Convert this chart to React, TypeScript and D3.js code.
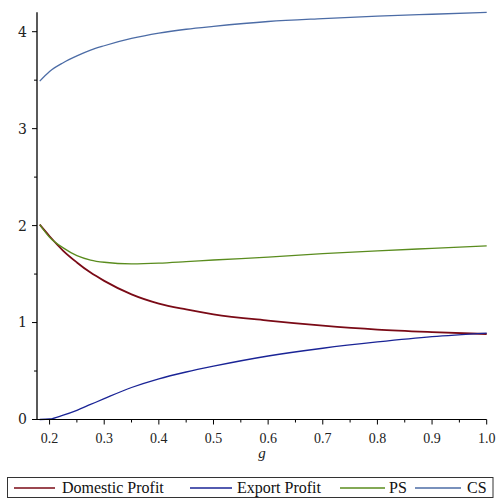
import React from "react";
import * as d3 from "d3";

const gVals = [0.182, 0.2, 0.225, 0.25, 0.275, 0.3, 0.35, 0.4, 0.45, 0.5, 0.6, 0.7, 0.8, 0.9, 1.0];
const domestic = [2.01, 1.89, 1.74, 1.62, 1.515, 1.43, 1.29, 1.195, 1.135, 1.085, 1.02, 0.968, 0.928, 0.902, 0.882];
const exportProfit = [0.0, 0.005, 0.045, 0.095, 0.155, 0.215, 0.33, 0.42, 0.49, 0.55, 0.655, 0.735, 0.8, 0.855, 0.892];
const ps = [2.01, 1.88, 1.77, 1.69, 1.645, 1.622, 1.605, 1.612, 1.628, 1.645, 1.675, 1.71, 1.74, 1.765, 1.79];
const cs = [3.49, 3.59, 3.68, 3.75, 3.81, 3.855, 3.93, 3.985, 4.025, 4.055, 4.105, 4.135, 4.16, 4.18, 4.2];

const xMajor = [0.2, 0.3, 0.4, 0.5, 0.6, 0.7, 0.8, 0.9, 1.0];
const xMinor = [0.25, 0.35, 0.45, 0.55, 0.65, 0.75, 0.85, 0.95];
const yMajor = [0, 1, 2, 3, 4];
const yMinor = [0.5, 1.5, 2.5, 3.5];

const seriesNames = ["Domestic Profit", "Export Profit", "PS", "CS"];
const seriesData = [domestic, exportProfit, ps, cs];
const colors = ["#7a0a16", "#1a2496", "#5a8c1e", "#4c6ca6"];

export default function App() {
  const width = 499;
  const height = 498;

  /* scales */
  const x = d3.scaleLinear().domain([0.177, 1.0]).range([37, 486.7]);
  const y = d3.scaleLinear().domain([0, 4.2]).range([419.5, 12.3]);

  const line = d3
    .line<number>()
    .x((_, i) => x(gVals[i]))
    .y(d => y(d))
    .curve(d3.curveMonotoneX);

  const font = "Liberation Serif";

  // legend slots: line start, line end, text start
  const legendItems = [
    { x1: 14, x2: 55, tx: 62 },
    { x1: 190, x2: 232, tx: 237 },
    { x1: 340, x2: 385, tx: 389 },
    { x1: 415, x2: 461, tx: 467 },
  ];

  return (
    <svg
      width={width}
      height={height}
      style={{ position: "absolute", left: 0, top: 0, background: "#fff" }}
    >
      {/* curves */}
      {seriesData.map((s, i) => (
        <path
          key={seriesNames[i]}
          d={line(s) || ""}
          fill="none"
          stroke={colors[i]}
          strokeWidth={i === 0 ? 1.8 : 1.3}
        />
      ))}

      {/* x axis */}
      <g fontFamily={font}>
        <line x1={x.range()[0]} x2={x.range()[1]} y1={y(0)} y2={y(0)} stroke="#000" />
        {xMajor.map(t => (
          <g key={t} transform={`translate(${x(t)},${y(0)})`}>
            <line y2={5} stroke="#000" />
            <text y={23} textAnchor="middle" fontSize={14} fill="#222">
              {t.toFixed(1)}
            </text>
          </g>
        ))}
        {xMinor.map(t => (
          <line key={t} x1={x(t)} x2={x(t)} y1={y(0)} y2={y(0) + 3} stroke="#000" />
        ))}
        <text x={262} y={458} textAnchor="middle" fontSize={15} fontStyle="italic" fill="#222">
          g
        </text>
      </g>

      {/* y axis */}
      <g fontFamily="DejaVu Serif">
        <line x1={37} x2={37} y1={12.3} y2={y(0)} stroke="#000" strokeWidth={1.3} />
        {yMajor.map(t => (
          <g key={t} transform={`translate(37,${y(t)})`}>
            <line x2={-5} stroke="#000" />
            <text x={-10} dy="0.35em" textAnchor="end" fontSize={14} fill="#222">
              {t}
            </text>
          </g>
        ))}
        {yMinor.map(t => (
          <line key={t} x1={37} x2={34} y1={y(t)} y2={y(t)} stroke="#000" />
        ))}
      </g>

      {/* legend */}
      <rect x={7.5} y={477.5} width={485.5} height={20} fill="#fff" stroke="#333" />
      {legendItems.map((it, i) => (
        <g key={seriesNames[i]}>
          <line x1={it.x1} x2={it.x2} y1={488} y2={488} stroke={colors[i]} strokeWidth={1.6} />
          <text x={it.tx} y={493} fontSize={16} fill="#111" fontFamily="Times New Roman">
            {seriesNames[i]}
          </text>
        </g>
      ))}
    </svg>
  );
}
